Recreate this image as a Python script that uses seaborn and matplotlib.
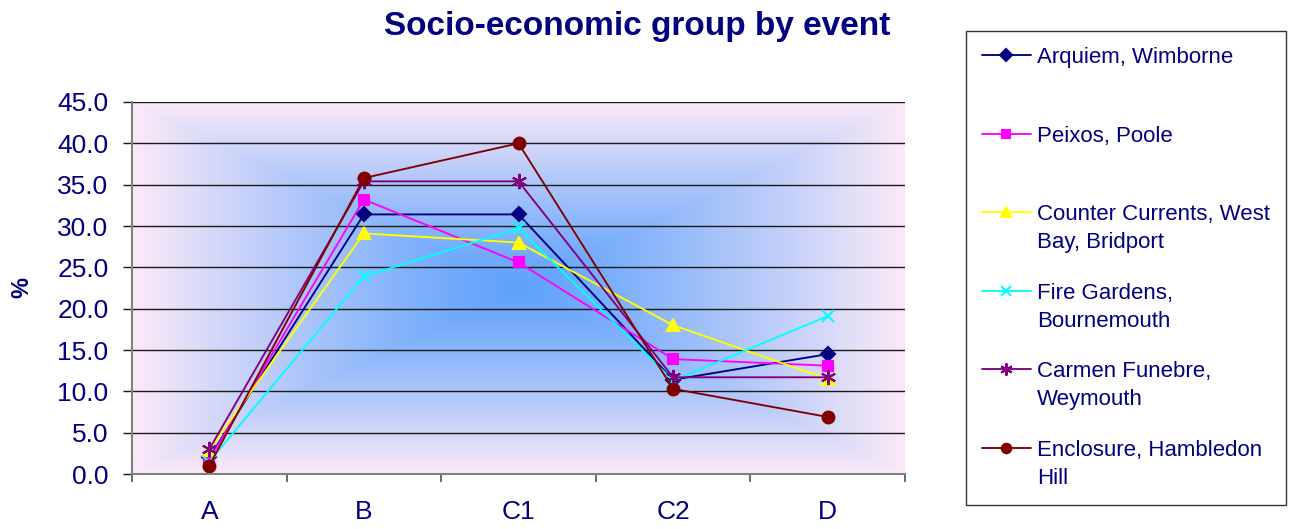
import numpy as np
import pandas as pd
import matplotlib
matplotlib.use("Agg")
import matplotlib.pyplot as plt
import seaborn as sns
from matplotlib.offsetbox import TextArea
from matplotlib.transforms import Bbox

# ---------------- data ----------------
categories = ["A", "B", "C1", "C2", "D"]
arquiem = [2.0, 31.4, 31.4, 11.4, 14.5]
peixos = [1.7, 33.2, 25.6, 13.9, 13.1]
counter_currents = [2.9, 29.1, 28.0, 18.0, 11.5]
fire_gardens = [1.5, 23.9, 29.7, 11.3, 19.1]
carmen_funebre = [3.0, 35.4, 35.4, 11.7, 11.7]
enclosure = [1.0, 35.8, 40.0, 10.3, 6.9]
events = ["Arquiem, Wimborne", "Peixos, Poole",
          "Counter Currents, West Bay, Bridport", "Fire Gardens, Bournemouth",
          "Carmen Funebre, Weymouth", "Enclosure, Hambledon Hill"]
legend_labels = ["Arquiem, Wimborne\n ", "Peixos, Poole\n ",
                 "Counter Currents, West\nBay, Bridport", "Fire Gardens,\nBournemouth",
                 "Carmen Funebre,\nWeymouth", "Enclosure, Hambledon\nHill"]
yticks = [0, 5, 10, 15, 20, 25, 30, 35, 40, 45]
title = "Socio-economic group by event"
ylabel = "%"

series = [arquiem, peixos, counter_currents, fire_gardens, carmen_funebre, enclosure]
df = pd.DataFrame({
    "group": categories * len(events),
    "value": [v for s in series for v in s],
    "event": [e for e in events for _ in categories],
})

# ---------------- style ----------------
colors = ["#000080", "#FF00FF", "#FFFF00", "#00FFFF", "#800080", "#800000"]
markers = ["D", "s", "^", "x", (6, 2, 0), "o"]
msizes = [7.5, 7.5, 9, 9, 11, 8.5]
navy = "#000080"

sns.set_style("white")
plt.rcParams["font.family"] = ["Liberation Sans", "DejaVu Sans"]

fig = plt.figure(figsize=(12.9, 5.29), dpi=100)
ax = fig.add_axes([132 / 1290, 1 - 474 / 529, (905 - 132) / 1290, (474 - 102) / 529])

# background gradient (rectangular, from centre)
nx, ny = 400, 200
U, V = np.meshgrid(np.linspace(-1, 1, nx), np.linspace(-1, 1, ny))
t = np.maximum(np.abs(U), np.abs(V)) ** 1.2
c0 = np.array([95, 162, 252]) / 255
c1 = np.array([252, 234, 247]) / 255
img = c0 + (c1 - c0) * t[..., None]
ax.imshow(img, extent=[-0.5, 4.5, 0, 45], aspect="auto", zorder=0,
          interpolation="bilinear")

sns.lineplot(data=df, x="group", y="value", hue="event",
             hue_order=events, palette=dict(zip(events, colors)),
             marker="o", sort=False, lw=1.35, ax=ax, legend=False)

data_lines = ax.lines[:len(events)]
for line, c, m, ms in zip(data_lines, colors, markers, msizes):
    line.set_marker(m)
    line.set_markeredgecolor(c)
    line.set_markerfacecolor(c)
    line.set_markersize(ms)
    line.set_markeredgewidth(1.5)

ax.set_xlim(-0.5, 4.5)
ax.set_ylim(0, 45)
ax.set_axisbelow(True)
ax.yaxis.grid(True, color="#1a1a1a", lw=1.0)
ax.xaxis.grid(False)

ax.set_yticks(yticks, [f"{v:.1f}" for v in yticks])
ax.set_xticks(range(len(categories)), categories)
ax.set_xticks(np.arange(-0.5, len(categories), 1), minor=True)
ax.tick_params(axis="x", which="major", length=0, pad=19, labelsize=19, labelcolor=navy)
ax.tick_params(axis="x", which="minor", length=6, width=1.3, color="#606060",
               direction="out", bottom=True)
ax.tick_params(axis="y", length=6.5, width=1.0, color="#1a1a1a", pad=10.5,
               labelsize=19, labelcolor=navy, left=True)
for s in ["top", "right"]:
    ax.spines[s].set_visible(False)
for s in ["left", "bottom"]:
    ax.spines[s].set_color("#808080")
    ax.spines[s].set_linewidth(1.5)
ax.set_xlabel("")
ax.set_ylabel("")

fig.text(637 / 1290, 1 - 26 / 529, title, ha="center", va="center",
         fontsize=24, fontweight="bold", color=navy)
fig.text(22 / 1290, 1 - 287 / 529, ylabel, ha="center", va="center",
         rotation=90, fontsize=17, fontweight="bold", color=navy)


# legend: handle aligned with the first line of multi-line labels
class FirstLineTextArea(TextArea):
    def get_bbox(self, renderer):
        _, h_, d_ = renderer.get_text_width_height_descent(
            "lp", self._text._fontproperties, ismath=False)
        bbox, info, yd = self._text._get_layout(renderer)
        w, h = bbox.size
        self._baseline_transform.clear()
        if len(info) > 1:
            yd_new = h - (h_ - d_)
            self._baseline_transform.translate(0, yd - yd_new)
            yd = yd_new
        else:
            h_d = max(h_ - d_, h - yd)
            h = h_d + yd
        return Bbox.from_bounds(0, -yd, w, h)


leg = fig.legend(data_lines, legend_labels, loc="upper left",
                 bbox_to_anchor=(966 / 1290, 1 - 31 / 529),
                 bbox_transform=fig.transFigure, frameon=True, fancybox=False,
                 shadow=False, fontsize=16, handlelength=2.2, handletextpad=0.27,
                 labelspacing=1.32, borderpad=0.72, borderaxespad=0, markerscale=0.8)
leg.get_frame().set_edgecolor("#000000")
leg.get_frame().set_linewidth(1.0)
for txt in leg.get_texts():
    txt.set_color(navy)
    txt.set_linespacing(1.45)


def patch(box):
    for c in box.get_children():
        if isinstance(c, TextArea):
            c.__class__ = FirstLineTextArea
        elif hasattr(c, "get_children") and not isinstance(c, matplotlib.text.Text):
            patch(c)


patch(leg._legend_box)

fig.savefig("out.png", dpi=100, facecolor="white")
